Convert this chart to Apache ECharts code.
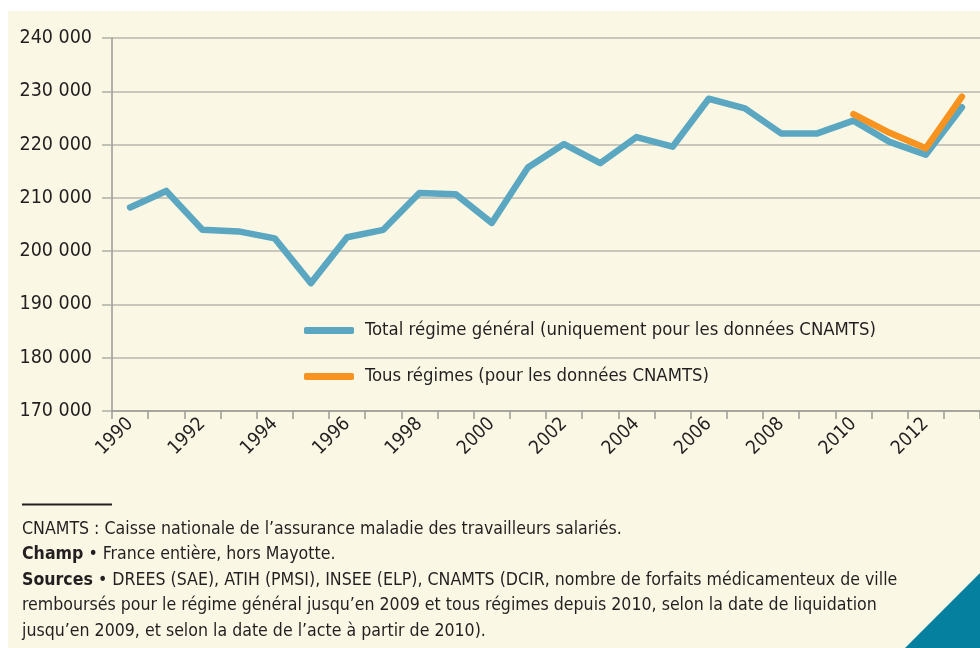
<!DOCTYPE html>
<html>
<head>
<meta charset="utf-8">
<script src="https://cdn.jsdelivr.net/npm/echarts@6/dist/echarts.min.js"></script>
<style>
  html, body { margin: 0; padding: 0; background: #fff; }
  #chart { width: 980px; height: 648px; }
</style>
</head>
<body>
<div id="chart"></div>
<script>
// données
const years = ['1990', '1991', '1992', '1993', '1994', '1995', '1996', '1997', '1998', '1999', '2000', '2001',
  '2002', '2003', '2004', '2005', '2006', '2007', '2008', '2009', '2010', '2011', '2012', '2013'];
const regimeGeneral = [208200, 211300, 204000, 203700, 202400, 194000, 202600, 204000, 210900, 210700, 205300, 215700,
  220100, 216500, 221400, 219600, 228600, 226800, 222100, 222100, 224500, 220500, 218100, 227000];
const tousRegimes = [null, null, null, null, null, null, null, null, null, null, null, null,
  null, null, null, null, null, null, null, null, 225700, 222200, 219300, 229000];
const seriesNames = ['Total régime général (uniquement pour les données CNAMTS)', 'Tous régimes (pour les données CNAMTS)'];
const notes = [
  'CNAMTS : Caisse nationale de l’assurance maladie des travailleurs salariés.',
  '{b|Champ} • France entière, hors Mayotte.',
  '{b|Sources} • DREES (SAE), ATIH (PMSI), INSEE (ELP), CNAMTS (DCIR, nombre de forfaits médicamenteux de ville',
  'remboursés pour le régime général jusqu’en 2009 et tous régimes depuis 2010, selon la date de liquidation',
  'jusqu’en 2009, et selon la date de l’acte à partir de 2010).'
];

const FONT = "'Liberation Sans Narrow', 'Arial Narrow', 'DejaVu Sans Condensed', sans-serif";
const TXT = '#231f20';
const BLUE = '#5ba7c1';
const ORANGE = '#f7931e';
const NOTE_SIZE = 17.6;

const chart = echarts.init(document.getElementById('chart'));

// notes de bas de page (une ligne par élément)
const noteGraphics = notes.map((t, i) => ({
  type: 'text',
  left: 22,
  top: 520.5 + i * 25.4,
  z: 10,
  style: {
    text: t,
    fill: TXT,
    font: NOTE_SIZE + 'px ' + FONT,
    rich: { b: { fontWeight: 'bold', fontSize: NOTE_SIZE, fontFamily: FONT, fill: TXT } }
  }
}));

const option = {
  backgroundColor: '#ffffff',
  textStyle: { fontFamily: FONT },
  graphic: [
    // fond crème
    { type: 'rect', shape: { x: 8, y: 11, width: 972, height: 637 }, style: { fill: '#faf8e5' }, z: -10 },
    // filet au-dessus des notes
    { type: 'line', shape: { x1: 22, y1: 504.5, x2: 112, y2: 504.5 }, style: { stroke: '#231f20', lineWidth: 2 }, z: 10 },
    // triangle décoratif en bas à droite
    { type: 'polygon', shape: { points: [[980, 573], [980, 648], [905, 648]] }, style: { fill: '#05819f' }, z: 10 },
    ...noteGraphics
  ],
  legend: {
    orient: 'vertical',
    left: 299,
    top: 316.5,
    itemWidth: 50,
    itemHeight: 7,
    itemGap: 28,
    icon: 'roundRect',
    textStyle: { color: TXT, fontSize: 18.4, fontFamily: FONT, padding: [0, 0, 0, 6] },
    data: seriesNames
  },
  grid: { left: 112, right: -2, top: 38, bottom: 237 },
  xAxis: {
    type: 'category',
    data: years,
    boundaryGap: true,
    axisLine: { lineStyle: { color: '#9a9a94', width: 1.5 } },
    axisTick: { show: true, interval: 0, length: 8, lineStyle: { color: '#9a9a94', width: 1.5 } },
    axisLabel: { interval: 1, rotate: 45, margin: 10, color: TXT, fontSize: 19, fontFamily: FONT }
  },
  yAxis: {
    type: 'value',
    min: 170000,
    max: 240000,
    interval: 10000,
    axisLine: { show: true, lineStyle: { color: '#9a9a94', width: 1.5 } },
    axisTick: { show: true, length: 10, lineStyle: { color: '#b0aea6', width: 1.5 } },
    splitLine: { lineStyle: { color: '#b9b7ae', width: 1.5 } },
    axisLabel: {
      margin: 20,
      color: TXT,
      fontSize: 19.5,
      fontFamily: FONT,
      formatter: v => String(v).replace(/\B(?=(\d{3})+(?!\d))/g, ' ')
    }
  },
  series: [
    {
      name: seriesNames[0],
      type: 'line',
      data: regimeGeneral,
      symbol: 'none',
      color: BLUE,
      lineStyle: { color: BLUE, width: 6.5, cap: 'round', join: 'round' },
      z: 3
    },
    {
      name: seriesNames[1],
      type: 'line',
      data: tousRegimes,
      symbol: 'none',
      color: ORANGE,
      lineStyle: { color: ORANGE, width: 6.5, cap: 'round', join: 'round' },
      z: 4
    }
  ]
};

chart.setOption(option);
</script>
</body>
</html>
